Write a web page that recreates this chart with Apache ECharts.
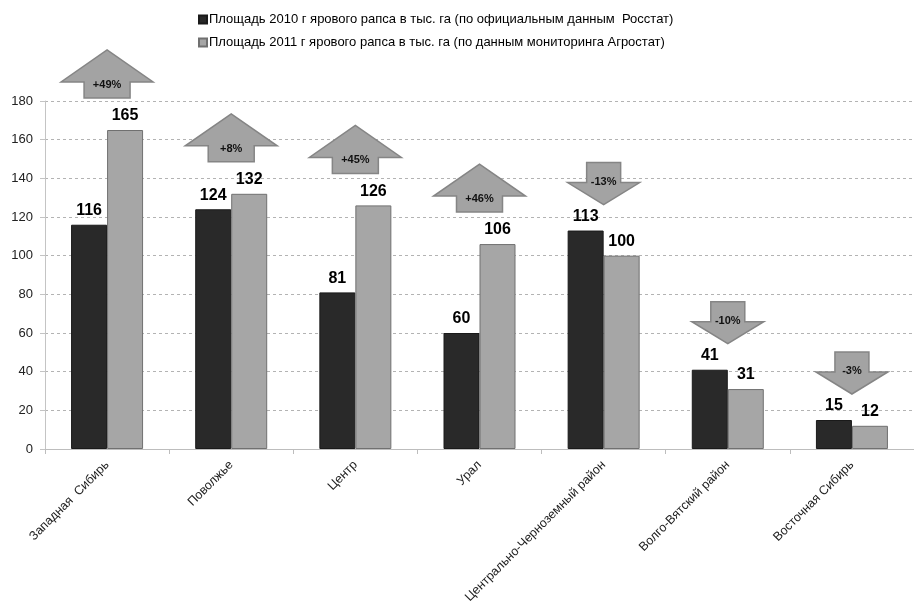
<!DOCTYPE html>
<html>
<head>
<meta charset="utf-8">
<script src="https://cdn.jsdelivr.net/npm/echarts@6/dist/echarts.min.js"></script>
<style>
  html, body { margin: 0; padding: 0; background: #fff; }
  #chart { width: 914px; height: 608px; }
</style>
</head>
<body>
<div id="chart"></div>
<script>
// Регионы и площади ярового рапса, тыс. га
var regions = ['Западная  Сибирь', 'Поволжье', 'Центр', 'Урал',
  'Центрально-Черноземный район', 'Волго-Вятский район', 'Восточная Сибирь'];
var area2010 = [116, 124, 81, 60, 113, 41, 15];
var area2011 = [165, 132, 126, 106, 100, 31, 12];
var changePct = [49, 8, 45, 46, -13, -10, -3];

var name2010 = 'Площадь 2010 г ярового рапса в тыс. га (по официальным данным  Росстат)';
var name2011 = 'Площадь 2011 г ярового рапса в тыс. га (по данным мониторинга Агростат)';

var FONT = '"Liberation Sans Narrow", "Arial Narrow", "Liberation Sans", Arial, sans-serif';

// Стрелки изменения: индекс региона, наибольшее значение пары, процент
var arrowData = regions.map(function (r, i) {
  return [i, Math.max(area2010[i], area2011[i]), changePct[i]];
});

function renderArrow(params, api) {
  var idx = api.value(0);
  var top = api.coord([idx, api.value(1)]);
  var pct = api.value(2);
  var cx = top[0];
  var pts, textY;
  if (pct >= 0) {
    var yb = top[1] - 32;
    pts = [[cx - 23, yb], [cx - 23, yb - 16], [cx - 46, yb - 16], [cx, yb - 48],
      [cx + 46, yb - 16], [cx + 23, yb - 16], [cx + 23, yb]];
    textY = yb - 13;
  } else {
    var ya = top[1] - 26;
    var yt = ya - 42;
    pts = [[cx - 17, yt], [cx + 17, yt], [cx + 17, yt + 20], [cx + 36, yt + 20],
      [cx, ya], [cx - 36, yt + 20], [cx - 17, yt + 20]];
    textY = yt + 19;
  }
  return {
    type: 'group',
    children: [
      {
        type: 'polygon',
        shape: { points: pts },
        style: { fill: '#a3a3a3', stroke: '#858585', lineWidth: 1.5 }
      },
      {
        type: 'text',
        x: cx,
        y: textY,
        style: {
          text: (pct > 0 ? '+' : '') + pct + '%',
          fill: '#111',
          font: 'bold 11px ' + FONT,
          align: 'center',
          verticalAlign: 'middle'
        }
      }
    ]
  };
}

var chart = echarts.init(document.getElementById('chart'), null, { renderer: 'canvas' });

var barLabel = {
  show: true,
  position: 'top',
  distance: 6,
  color: '#000',
  fontFamily: FONT,
  fontWeight: 'bold',
  fontSize: 16
};

chart.setOption({
  animation: false,
  backgroundColor: '#fff',
  legend: {
    orient: 'vertical',
    left: 193,
    top: 8,
    itemWidth: 8,
    itemHeight: 8,
    itemGap: 10,
    icon: 'rect',
    textStyle: { fontFamily: FONT, fontSize: 13, color: '#000', padding: [0, 0, 0, -3] },
    data: [name2010, name2011]
  },
  grid: { left: 45, top: 101, width: 877, bottom: 159, containLabel: false },
  xAxis: {
    type: 'category',
    data: regions,
    axisLine: { lineStyle: { color: '#bdbdbd', width: 1 } },
    axisTick: { show: true, length: 5, lineStyle: { color: '#bdbdbd' } },
    axisLabel: {
      rotate: 45,
      interval: 0,
      margin: 14,
      color: '#222',
      fontFamily: FONT,
      fontSize: 12.5
    }
  },
  yAxis: {
    type: 'value',
    min: 0,
    max: 180,
    interval: 20,
    axisLine: { show: true, lineStyle: { color: '#c4c4c4' } },
    axisTick: { show: true, length: 5, lineStyle: { color: '#c4c4c4' } },
    axisLabel: { color: '#222', fontFamily: FONT, fontSize: 13, margin: 12 },
    splitLine: { show: true, lineStyle: { color: '#b3b3b3', type: [3, 3], width: 1 } }
  },
  series: [
    {
      name: name2010,
      type: 'bar',
      data: area2010,
      barWidth: 36,
      barGap: '0%',
      itemStyle: { color: '#292929', borderColor: '#1a1a1a', borderWidth: 1 },
      label: barLabel
    },
    {
      name: name2011,
      type: 'bar',
      data: area2011,
      barWidth: 36,
      barGap: '0%',
      itemStyle: { color: '#a6a6a6', borderColor: '#707070', borderWidth: 1 },
      label: barLabel
    },
    {
      type: 'custom',
      renderItem: renderArrow,
      data: arrowData,
      clip: false,
      silent: true,
      z: 5,
      encode: { x: 0, y: 1 }
    }
  ]
});
</script>
</body>
</html>
